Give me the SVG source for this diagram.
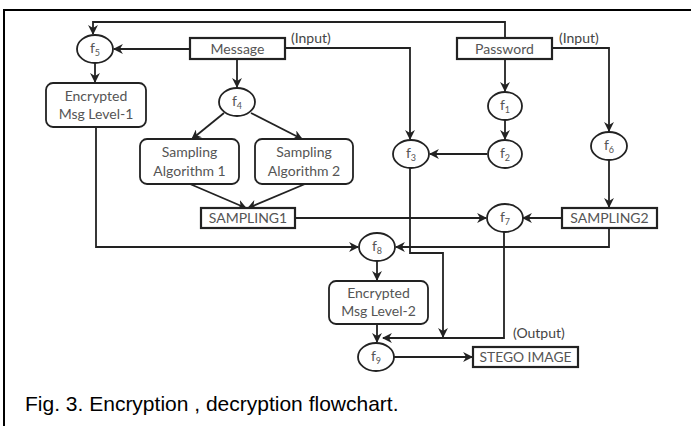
<svg xmlns="http://www.w3.org/2000/svg" width="691" height="426" viewBox="0 0 691 426">
<style>
.frame{fill:none;stroke:#000;stroke-width:2}
.box{fill:#fff;stroke:#222;stroke-width:2.2}
.rbox{fill:#fff;stroke:#222;stroke-width:1.8}
.circ{fill:#fff;stroke:#222;stroke-width:1.8}
.lbl{font-family:Lato,"Open Sans",sans-serif;font-size:14px;fill:#555;text-anchor:middle}
.fl{font-family:Lato,"Open Sans",sans-serif;font-size:14px;fill:#555;text-anchor:middle}
.sub{font-size:9px}
.io{font-family:Lato,"Open Sans",sans-serif;font-size:14px;fill:#444}
.cap{font-family:"Liberation Sans",Arial,sans-serif;font-size:21px;fill:#000}
.ln{fill:none;stroke:#222;stroke-width:1.8;marker-end:url(#ah)}
</style>
<defs>
<marker id="ah" viewBox="0 0 10 10" refX="9" refY="5" markerWidth="5.5" markerHeight="5.5" markerUnits="strokeWidth" orient="auto">
<path d="M0,0 L10,5 L0,10 L3,5 z" fill="#222"/>
</marker>
</defs>
<rect width="691" height="426" fill="#fff"/>
<path class="frame" d="M4,426 V10 H691"/>

<g id="connectors">
<path class="ln" d="M505,38 V22 H93 V34"/>
<path class="ln" d="M190,49 H114"/>
<path class="ln" d="M285,48 H410 V139"/>
<path class="ln" d="M237,59 V87"/>
<path class="ln" d="M224,113 L192,139"/>
<path class="ln" d="M251,113 L302,139"/>
<path class="ln" d="M95,63 V82"/>
<path class="ln" d="M190,184 L246,208"/>
<path class="ln" d="M305,184 L248,208"/>
<path class="ln" d="M295,218 H486"/>
<path class="ln" d="M562,218 H523"/>
<path class="ln" d="M96,127 V247 H358"/>
<path class="ln" d="M609,228 V247 H396"/>
<path class="ln" d="M505,59 V91"/>
<path class="ln" d="M505,120 V139"/>
<path class="ln" d="M487,154 H430"/>
<path class="ln" d="M552,48 H609 V131"/>
<path class="ln" d="M609,160 V207"/>
<path class="ln" d="M377,261 V280"/>
<path class="ln" d="M410,168 V253 H443 V337"/>
<path class="ln" d="M504,232 V338 H383"/>
<path class="ln" d="M377,324 V342"/>
<path class="ln" d="M394,357 H472"/>
</g>

<g id="f5"><ellipse class="circ" cx="95" cy="49" rx="18" ry="14"/><text class="fl" x="95" y="53">f<tspan class="sub" dy="3">5</tspan></text></g>
<g id="message"><rect class="box" x="190" y="38" width="95" height="21"/><text class="lbl" x="237.5" y="53.5">Message</text></g>
<text class="io" x="291" y="43">(Input)</text>
<g id="password"><rect class="box" x="457" y="38" width="95" height="21"/><text class="lbl" x="504.5" y="53.5">Password</text></g>
<text class="io" x="559" y="43">(Input)</text>
<g id="f4"><ellipse class="circ" cx="237" cy="102" rx="18" ry="14"/><text class="fl" x="237" y="106">f<tspan class="sub" dy="3">4</tspan></text></g>
<g id="enc1"><rect class="rbox" x="46" y="83" width="100" height="44" rx="7"/><text class="lbl" x="96" y="101">Encrypted</text><text class="lbl" x="96" y="119">Msg Level-1</text></g>
<g id="sa1"><rect class="rbox" x="140" y="139" width="99" height="45" rx="7"/><text class="lbl" x="189.5" y="157">Sampling</text><text class="lbl" x="189.5" y="176">Algorithm 1</text></g>
<g id="sa2"><rect class="rbox" x="255" y="139" width="98" height="45" rx="7"/><text class="lbl" x="304" y="157">Sampling</text><text class="lbl" x="304" y="176">Algorithm 2</text></g>
<g id="f1"><ellipse class="circ" cx="505" cy="106" rx="17" ry="14"/><text class="fl" x="505" y="110">f<tspan class="sub" dy="3">1</tspan></text></g>
<g id="f2"><ellipse class="circ" cx="505" cy="154" rx="17" ry="14"/><text class="fl" x="505" y="158">f<tspan class="sub" dy="3">2</tspan></text></g>
<g id="f3"><ellipse class="circ" cx="411" cy="154" rx="18" ry="14"/><text class="fl" x="411" y="158">f<tspan class="sub" dy="3">3</tspan></text></g>
<g id="f6"><ellipse class="circ" cx="609" cy="146" rx="18" ry="14"/><text class="fl" x="609" y="150">f<tspan class="sub" dy="3">6</tspan></text></g>
<g id="sampling1"><rect class="box" x="201" y="208" width="94" height="20"/><text class="lbl" x="248" y="223">SAMPLING1</text></g>
<g id="sampling2"><rect class="box" x="562" y="208" width="95" height="20"/><text class="lbl" x="609.5" y="223">SAMPLING2</text></g>
<g id="f7"><ellipse class="circ" cx="505" cy="218" rx="18" ry="14"/><text class="fl" x="505" y="222">f<tspan class="sub" dy="3">7</tspan></text></g>
<g id="f8"><ellipse class="circ" cx="377" cy="247" rx="18" ry="14"/><text class="fl" x="377" y="251">f<tspan class="sub" dy="3">8</tspan></text></g>
<g id="enc2"><rect class="rbox" x="329" y="281" width="99" height="43" rx="7"/><text class="lbl" x="378.5" y="298">Encrypted</text><text class="lbl" x="378.5" y="316">Msg Level-2</text></g>
<g id="f9"><ellipse class="circ" cx="376" cy="357" rx="18" ry="14"/><text class="fl" x="376" y="361">f<tspan class="sub" dy="3">9</tspan></text></g>
<text class="io" x="513" y="338">(Output)</text>
<g id="stego"><rect class="box" x="473" y="347" width="105" height="20"/><text class="lbl" x="525.5" y="362" textLength="92" lengthAdjust="spacingAndGlyphs">STEGO IMAGE</text></g>
<text class="cap" x="25" y="411">Fig. 3. Encryption , decryption flowchart.</text>
</svg>
